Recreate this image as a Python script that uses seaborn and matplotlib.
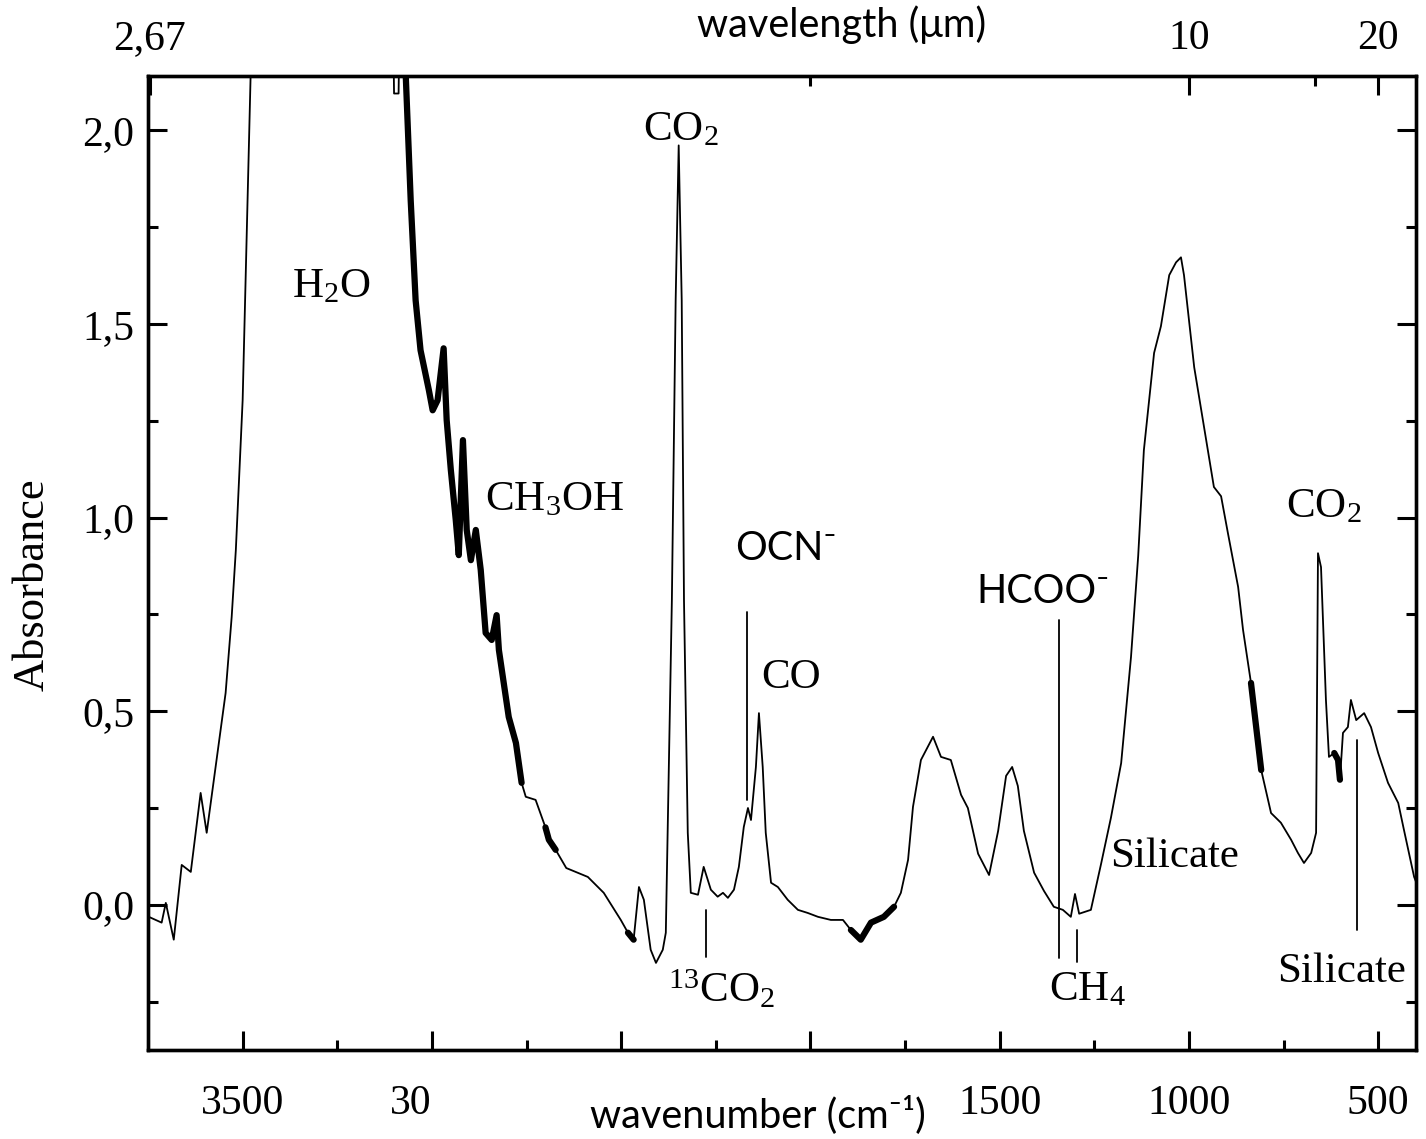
import numpy as np
import pandas as pd
import matplotlib
matplotlib.use("Agg")
import matplotlib.pyplot as plt
import seaborn as sns

# spectrum (cm-1, absorbance); values > 2.14 are off-scale
wavenumber = [3748, 3714, 3703, 3682, 3661, 3637, 3611, 3595, 3563, 3545,
              3529, 3518, 3500, 3479, 3472,
              3102, 3100, 3088, 3086, 3076,
              3069, 3056, 3043, 3030, 3008, 2998, 2985, 2969, 2961, 2950,
              2937, 2929, 2918, 2908, 2897, 2884, 2871, 2858, 2842, 2829,
              2823, 2797, 2778, 2763, 2752, 2726, 2700, 2691, 2673, 2645,
              2588, 2546, 2501, 2482, 2467, 2453, 2440, 2422, 2408, 2390,
              2382, 2374, 2366, 2356, 2348, 2340, 2334, 2324, 2316, 2297,
              2282, 2263, 2245, 2231, 2218, 2202, 2189, 2176, 2165, 2157,
              2144, 2136, 2126, 2118, 2104, 2086, 2060, 2033, 2007, 1980,
              1946, 1914, 1893, 1867, 1840, 1806, 1779, 1761, 1742, 1729,
              1708, 1676, 1655, 1629, 1602, 1584, 1557, 1528, 1504, 1483,
              1467, 1452, 1436, 1409, 1383, 1357, 1333, 1312, 1301, 1290,
              1259, 1232, 1206, 1179, 1153, 1134, 1119, 1092, 1074, 1052,
              1034, 1021, 1013, 986, 960, 934, 915, 897, 870, 857,
              836, 809, 783, 757, 730, 712, 696, 677, 664, 659,
              651, 638, 630, 616, 606, 601, 593, 580, 572, 558,
              537, 519, 500, 474, 447, 432, 405, 397]
absorbance = [-0.031, -0.046, 0.005, -0.090, 0.103, 0.085, 0.289, 0.186, 0.417, 0.547,
              0.743, 0.916, 1.303, 2.139, 2.40,
              2.25, 2.095, 2.095, 2.25, 2.40,
              2.139, 1.819, 1.561, 1.432, 1.329, 1.277, 1.303, 1.437, 1.252, 1.123,
              0.994, 0.903, 1.200, 0.968, 0.890, 0.968, 0.865, 0.702, 0.684, 0.748,
              0.658, 0.485, 0.418, 0.315, 0.279, 0.271, 0.200, 0.168, 0.142, 0.095,
              0.072, 0.031, -0.039, -0.072, -0.090, 0.046, 0.013, -0.116, -0.150, -0.116,
              -0.072, 0.356, 0.787, 1.561, 1.961, 1.561, 0.787, 0.186, 0.031, 0.026,
              0.098, 0.039, 0.021, 0.031, 0.018, 0.039, 0.098, 0.201, 0.250, 0.219,
              0.356, 0.495, 0.356, 0.186, 0.057, 0.046, 0.013, -0.013, -0.021, -0.031,
              -0.039, -0.039, -0.065, -0.090, -0.046, -0.031, -0.005, 0.031, 0.116, 0.253,
              0.374, 0.434, 0.382, 0.374, 0.284, 0.250, 0.132, 0.077, 0.191, 0.333,
              0.356, 0.307, 0.191, 0.083, 0.036, -0.005, -0.013, -0.031, 0.028, -0.023,
              -0.013, 0.106, 0.225, 0.366, 0.640, 0.901, 1.174, 1.425, 1.494, 1.626,
              1.659, 1.672, 1.626, 1.388, 1.234, 1.079, 1.055, 0.960, 0.821, 0.710,
              0.573, 0.348, 0.237, 0.212, 0.168, 0.134, 0.108, 0.134, 0.186, 0.908,
              0.872, 0.529, 0.382, 0.392, 0.374, 0.323, 0.444, 0.459, 0.529, 0.477,
              0.495, 0.459, 0.392, 0.315, 0.263, 0.194, 0.072, 0.052]

# stretches where the trace is drawn heavy (noisy in the original)
noisy_ranges = [(3070, 2760), (2705, 2670), (2495, 2455), (1900, 1765), (845, 805), (622, 598)]

# band labels: text, wavenumber, absorbance, font
labels = [("H$_2$O", 3267, 1.595, "serif"),
          ("CO$_2$", 2342, 2.00, "serif"),
          ("CH$_3$OH", 2675, 1.045, "serif"),
          ("OCN\u207b", 2065, 0.921, "sans"),
          ("CO", 2052, 0.586, "serif"),
          ("HCOO\u207b", 1386, 0.808, "sans"),
          ("$^{13}$CO$_2$", 2234, -0.219, "serif"),
          ("CH$_4$", 1269, -0.219, "serif"),
          ("Silicate", 1037, 0.124, "serif"),
          ("CO$_2$", 643, 1.027, "serif"),
          ("Silicate", 596, -0.173, "serif")]

# marker lines: wavenumber, bottom, top
markers = [(2276, -0.134, -0.013),
           (2168, 0.271, 0.756),
           (1343, -0.137, 0.735),
           (1296, -0.147, -0.065),
           (556, -0.065, 0.426)]

bottom_ticks = [3500, 3000, 2500, 2000, 1500, 1000, 500]
bottom_labels = ["3500", "30", "", "", "1500", "1000", "500"]
top_um = [2.67, 10, 20]
top_labels = ["2,67", "10", "20"]
top_minor_um = [5, 15]
y_ticks = [0.0, 0.5, 1.0, 1.5, 2.0]
y_labels = ["0,0", "0,5", "1,0", "1,5", "2,0"]

sns.set_theme(style="ticks")
plt.rcParams["font.family"] = ["Liberation Serif", "DejaVu Serif"]
plt.rcParams["text.color"] = "black"
plt.rcParams["axes.labelcolor"] = "black"
plt.rcParams["mathtext.fontset"] = "custom"
plt.rcParams["mathtext.rm"] = "Liberation Serif"
plt.rcParams["mathtext.it"] = "Liberation Serif:italic"
plt.rcParams["mathtext.bf"] = "Liberation Serif:bold"
plt.rcParams["mathtext.default"] = "rm"
SANS = ["Lato", "DejaVu Sans"]

df = pd.DataFrame({"wn": wavenumber, "A": absorbance})

fig = plt.figure(figsize=(14.26, 11.39), dpi=100)
ax = fig.add_axes([0.1038, 0.0781, 0.8892, 0.8551])

sns.lineplot(data=df, x="wn", y="A", ax=ax, color="black", linewidth=1.3,
             estimator=None, sort=False)
for hi, lo in noisy_ranges:
    seg = df[(df.wn <= hi) & (df.wn >= lo)]
    sns.lineplot(data=seg, x="wn", y="A", ax=ax, color="black", linewidth=4.5,
                 estimator=None, sort=False)

ax.set_xlim(3750, 400)
ax.set_ylim(-0.375, 2.14)
ax.set_xlabel("")
ax.set_ylabel("")

for wn, y0, y1 in markers:
    ax.plot([wn, wn], [y0, y1], color="black", linewidth=1.3)

for txt, wn, a, kind in labels:
    if kind == "sans":
        ax.text(wn, a, txt, ha="center", va="center", fontsize=28.5, family=SANS,
                color="black")
    else:
        ax.text(wn, a, txt, ha="center", va="center", fontsize=31, color="black")

ax.set_xticks(bottom_ticks)
ax.set_xticklabels(bottom_labels)
ax.get_xticklabels()[1].set_ha("right")
ax.set_xticks([3750, 3250, 2750, 2250, 1750, 1250, 750], minor=True)
ax.set_yticks(y_ticks)
ax.set_yticklabels(y_labels)
ax.set_yticks([-0.25, 0.25, 0.75, 1.25, 1.75], minor=True)
ax.tick_params(axis="both", which="both", direction="in", width=2.2, colors="black")
ax.tick_params(axis="both", which="major", length=14, labelsize=30)
ax.tick_params(axis="both", which="minor", length=7)
ax.tick_params(axis="x", which="major", pad=25)
ax.tick_params(axis="y", which="major", pad=10)
ax.tick_params(axis="y", which="both", right=True)

top = ax.twiny()
top.set_xlim(ax.get_xlim())
top.set_xticks([1e4 / u for u in top_um])
top.set_xticklabels(top_labels)
top.set_xticks([1e4 / u for u in top_minor_um], minor=True)
top.tick_params(axis="x", which="both", direction="in", width=2.2, colors="black")
top.tick_params(axis="x", which="major", length=14, labelsize=30, pad=13)
top.tick_params(axis="x", which="minor", length=7)

for a_ in (ax, top):
    for s in a_.spines.values():
        s.set_linewidth(2.4)
        s.set_color("black")

fig.text(842 / 1426, 1 - 25 / 1139, "wavelength (\u03bcm)", ha="center", va="center",
         fontsize=28.5, family=SANS, color="black")
fig.text(758 / 1426, 1 - 1115 / 1139, "wavenumber (cm\u207b\u00b9)", ha="center", va="center",
         fontsize=28.5, family=SANS, color="black")
fig.text(33 / 1426, 1 - 585 / 1139, "Absorbance", ha="center", va="center",
         rotation=90, fontsize=32, color="black")

fig.savefig("out.png", dpi=100, facecolor="white")
